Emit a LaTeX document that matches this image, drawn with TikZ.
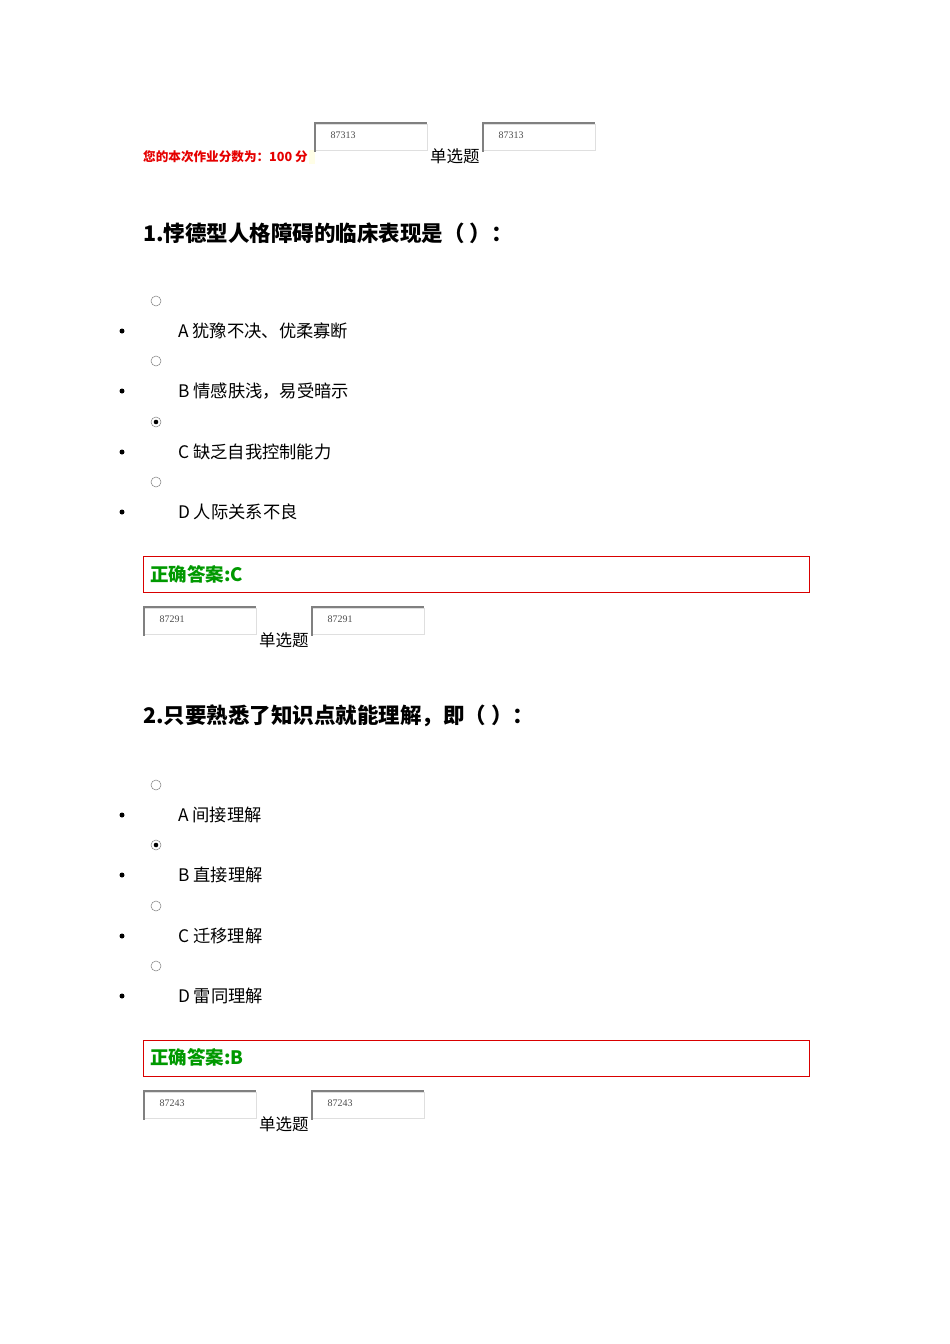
\documentclass[tikz,border=0pt]{standalone}
\usepackage{fontspec}
\setmainfont{Liberation Sans}
\newfontfamily\cjk{Noto Sans CJK SC}
\newfontfamily\serifn{Liberation Serif}
\begin{document}
\begin{tikzpicture}[x=1pt,y=-1pt,
  idbox/.style={draw=gray!25,line width=0.8pt,minimum width=112pt,minimum height=26pt,anchor=north west,inner sep=0pt},
  idtxt/.style={anchor=north west,font=\serifn\fontsize{10}{10}\selectfont,text=black!70},
  opt/.style={anchor=west,font=\cjk\fontsize{17.3}{17}\selectfont,inner sep=0pt},
  radio/.style={circle,draw=gray,line width=0.5pt,minimum size=10pt,inner sep=0pt},
  bul/.style={circle,fill=black,minimum size=5pt,inner sep=0pt},
  qtitle/.style={anchor=west,font=\cjk\bfseries\fontsize{21.5}{21}\selectfont,inner sep=0pt},
  ansbox/.style={draw=red!85!black,line width=0.8pt,anchor=north west,minimum width=666pt,minimum height=36pt,inner sep=0pt},
  anstxt/.style={anchor=west,font=\cjk\bfseries\fontsize{18.5}{18}\selectfont,text=green!60!black,inner sep=0pt},
  typ/.style={anchor=west,font=\cjk\fontsize{16.5}{16}\selectfont,inner sep=0pt}]
\useasboundingbox (0,0) rectangle (950,1344);
\fill[white] (0,0) rectangle (950,1344);
\newcommand\idpair[3]{%
  \node[idbox] (#3a) at (#1,#2) {};
  \draw[gray,line width=2pt] ([yshift=-1pt]#3a.south west) -- ([yshift=1pt]#3a.north west) -- ([xshift=-1pt,yshift=1pt]#3a.north east);
  \node[idtxt] at ([xshift=12pt,yshift=-4pt]#3a.north west) {\IDN};
}
% header
\node[anchor=west,font=\cjk\bfseries\fontsize{12.6}{12}\selectfont,text=red!90!black,inner sep=0pt] (score) at (143,157) {您的本次作业分数为：100 分};
\fill[yellow!10] (309,150) rectangle (315,164);
\def\IDN{87313}
\idpair{315}{124}{h1}
\idpair{483}{124}{h2}
\node[typ] (t1) at (430,156) {单选题};
% Q1
\node[qtitle] (q1) at (143,233) {1.悖德型人格障碍的临床表现是（ ）：};
\foreach \y/\t/\s in {301/A 犹豫不决、优柔寡断/0,361/B 情感肤浅，易受暗示/0,422/C 缺乏自我控制能力/1,482/D 人际关系不良/0}{
  \node[radio] at (156,\y) {};
  \ifnum\s=1 \fill (156,\y) circle (2.3pt);\fi
  \node[bul] at (122,\y+30) {};
  \node[opt] at (178,\y+30) {\t};
}
\node[ansbox] (a1) at (143,556) {};
\node[anstxt] at (150,574) {正确答案:C};
\def\IDN{87291}
\idpair{144}{608}{k1}
\idpair{312}{608}{k2}
\node[typ] (t2) at (259,640) {单选题};
% Q2
\node[qtitle] (q2) at (143,716) {2.只要熟悉了知识点就能理解，即（ ）：};
\foreach \y/\t/\s in {785/A 间接理解/0,845/B 直接理解/1,906/C 迁移理解/0,966/D 雷同理解/0}{
  \node[radio] at (156,\y) {};
  \ifnum\s=1 \fill (156,\y) circle (2.3pt);\fi
  \node[bul] at (122,\y+30) {};
  \node[opt] at (178,\y+30) {\t};
}
\node[ansbox] (a2) at (143,1040) {};
\node[anstxt] at (150,1057) {正确答案:B};
\def\IDN{87243}
\idpair{144}{1092}{m1}
\idpair{312}{1092}{m2}
\node[typ] (t3) at (259,1124) {单选题};
\end{tikzpicture}
\end{document}
